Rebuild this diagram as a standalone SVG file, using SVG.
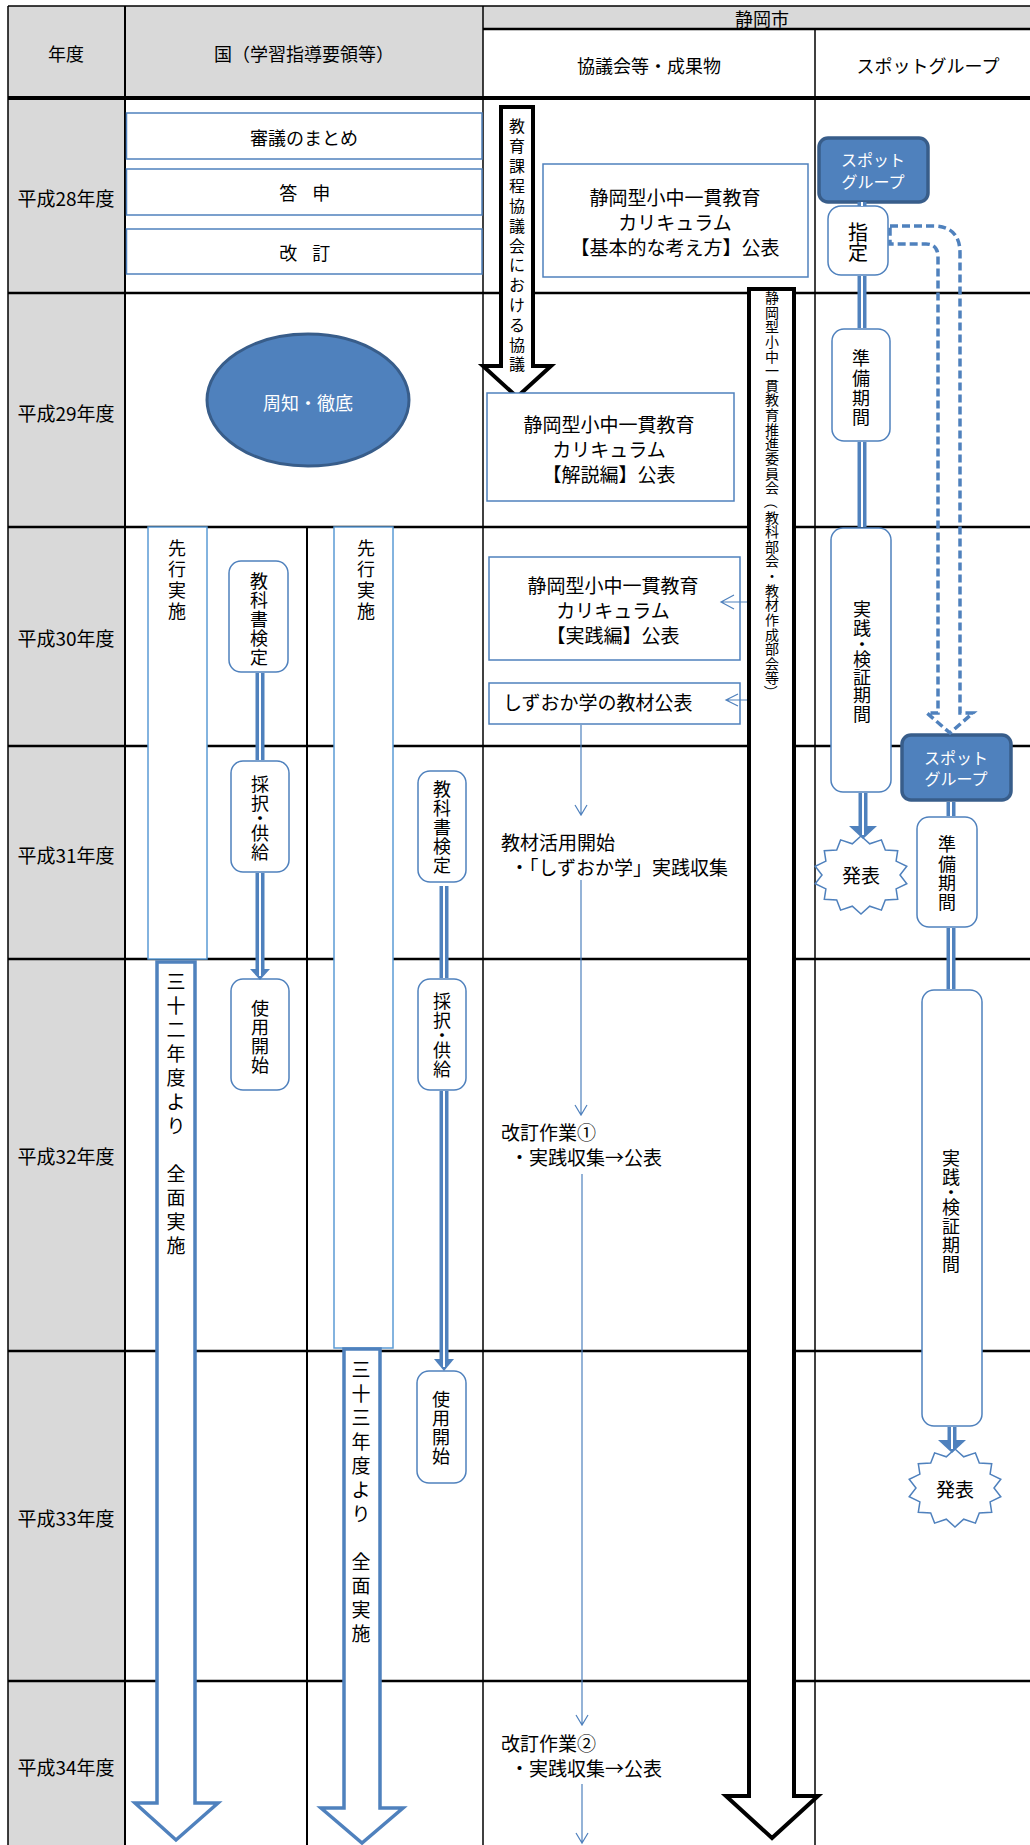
<svg xmlns="http://www.w3.org/2000/svg" width="1030" height="1845" viewBox="0 0 1030 1845">
<defs>
<style>
.t{font-family:"Noto Sans CJK JP","Noto Sans CJK SC",sans-serif;font-size:18px;fill:#000;text-anchor:middle;dominant-baseline:central}
.st{text-anchor:start}
.wt{fill:#fff}
.f14{font-size:14px}.f16{font-size:16px}.f19{font-size:19px}.f20{font-size:20px}
.g{stroke:#000;stroke-width:2.5}
.gt{stroke:#000;stroke-width:1.5}
.bx{fill:#fff;stroke:#4f81bd;stroke-width:1.5}
.bx2{fill:#fff;stroke:#5b9bd5;stroke-width:1.5}
.sp{fill:#4f81bd;stroke:#385d8a;stroke-width:3.5}
.dl{stroke:#4f81bd;stroke-width:9;fill:none}
.dw{stroke:#fff;stroke-width:2;fill:none}
.ah{fill:#4f81bd}
.thin{stroke:#4f81bd;stroke-width:1.2;fill:none}
.bk{fill:#fff;stroke:#000;stroke-width:4;stroke-linejoin:miter}
.ba{fill:#fff;stroke:#4f81bd;stroke-width:3.5;stroke-linejoin:miter}
.dash{fill:none;stroke:#4f81bd;stroke-width:3.5;stroke-dasharray:8 4}
.star{fill:#fff;stroke:#4f81bd;stroke-width:1.5}
</style>
<polygon id="star" points="0,-39 8.7,-31.2 20.4,-35.1 24.3,-25 36.7,-24.3 35.1,-13.9 45.8,-8.7 39,0 45.8,8.7 35.1,13.9 36.7,24.3 24.3,25 20.4,35.1 8.7,31.2 0,39 -8.7,31.2 -20.4,35.1 -24.3,25 -36.7,24.3 -35.1,13.9 -45.8,8.7 -39,0 -45.8,-8.7 -35.1,-13.9 -36.7,-24.3 -24.3,-25 -20.4,-35.1 -8.7,-31.2"/>
</defs>
<rect x="0" y="0" width="1030" height="1845" fill="#fff"/>
<g id="table">
<rect x="8" y="6" width="475" height="92" fill="#d9d9d9"/>
<rect x="483" y="6" width="547" height="23" fill="#d9d9d9"/>
<rect x="8" y="98" width="117" height="1747" fill="#d9d9d9"/>
<line class="gt" x1="8" y1="6" x2="1030" y2="6"/>
<line class="gt" x1="8" y1="6" x2="8" y2="1845"/>
<line class="g" x1="125" y1="6" x2="125" y2="1845" style="stroke-width:2"/>
<line class="gt" x1="483" y1="6" x2="483" y2="1845"/>
<line class="gt" x1="815" y1="29" x2="815" y2="1845"/>
<line class="g" x1="307" y1="527" x2="307" y2="1845" style="stroke-width:2"/>
<line class="g" x1="483" y1="29" x2="1030" y2="29"/>
<line class="g" x1="8" y1="98" x2="1030" y2="98" style="stroke-width:4"/>
<line class="g" x1="8" y1="293" x2="1030" y2="293"/>
<line class="g" x1="8" y1="527" x2="1030" y2="527"/>
<line class="g" x1="8" y1="746" x2="1030" y2="746"/>
<line class="g" x1="8" y1="959" x2="1030" y2="959"/>
<line class="g" x1="8" y1="1351" x2="1030" y2="1351"/>
<line class="g" x1="8" y1="1681" x2="1030" y2="1681"/>
<text class="t" x="66" y="53">年度</text>
<text class="t" x="304" y="53">国（学習指導要領等）</text>
<text class="t" x="762" y="18">静岡市</text>
<text class="t" x="649" y="65">協議会等・成果物</text>
<text class="t" x="928" y="65">スポットグループ</text>
<text class="t f19" x="66" y="197">平成28年度</text>
<text class="t f19" x="66" y="412">平成29年度</text>
<text class="t f19" x="66" y="637">平成30年度</text>
<text class="t f19" x="66" y="854">平成31年度</text>
<text class="t f19" x="66" y="1155">平成32年度</text>
<text class="t f19" x="66" y="1517">平成33年度</text>
<text class="t f19" x="66" y="1766">平成34年度</text>
</g>
<g id="n-shingi"><rect class="bx" x="126.5" y="113" width="355.5" height="46"/><text class="t" x="304" y="137">審議のまとめ</text></g>
<g id="n-toushin"><rect class="bx" x="126.5" y="169" width="355.5" height="46"/><text class="t" x="304" y="192" style="letter-spacing:-1.5px">答　申</text></g>
<g id="n-kaitei"><rect class="bx" x="126.5" y="229" width="355.5" height="45"/><text class="t" x="304" y="252" style="letter-spacing:-1.5px">改　訂</text></g>
<g id="n-shuchi"><ellipse cx="308" cy="400" rx="101" ry="66" fill="#4f81bd" stroke="#385d8a" stroke-width="3"/><text class="t wt" x="308" y="402">周知・徹底</text></g>
<g id="n-senko1"><rect class="bx2" x="148" y="527" width="59" height="432"/><text class="t" x="177 177 177 177" y="547 568 589 610">先行実施</text></g>
<g id="n-senko2"><rect class="bx2" x="334" y="527" width="59" height="821"/><text class="t" x="366 366 366 366" y="547 568 589 610">先行実施</text></g>
<g id="n-kentei1"><rect class="bx" x="229" y="561" width="59" height="111" rx="12"/><text class="t" x="259 259 259 259 259" y="580 599 618 637 656">教科書検定</text></g>
<g id="n-saitaku1"><rect class="bx" x="231" y="761" width="58" height="111" rx="12"/><text class="t" x="260 260 260 260 260" y="783 802 817 832 851">採択・供給</text></g>
<g id="n-shiyou1"><rect class="bx" x="231" y="979" width="58" height="111" rx="12"/><text class="t" x="260 260 260 260" y="1007 1026 1045 1064">使用開始</text></g>
<g id="n-kentei2"><rect class="bx" x="418" y="771" width="48" height="111" rx="12"/><text class="t" x="442 442 442 442 442" y="788 807 826 845 864">教科書検定</text></g>
<g id="n-saitaku2"><rect class="bx" x="418" y="979" width="48" height="111" rx="12"/><text class="t" x="442 442 442 442 442" y="1000 1019 1034 1049 1068">採択・供給</text></g>
<g id="n-shiyou2"><rect class="bx" x="417" y="1371" width="49" height="112" rx="12"/><text class="t" x="441 441 441 441" y="1398 1417 1436 1455">使用開始</text></g>
<g id="n-zenmen32"><path class="ba" d="M157,962 H195 V1803 H218 L176,1840 L135,1803 H157 Z"/><text class="t f19" x="176 176 176 176 176 176 176 176 176 176 176 176" y="980 1004 1028 1052 1076 1100 1124 1148 1172 1196 1220 1244">三十二年度より　全面実施</text></g>
<g id="n-zenmen33"><path class="ba" d="M344,1349 H380 V1808 H403 L362,1843 L321,1808 H344 Z"/><text class="t f19" x="361 361 361 361 361 361 361 361 361 361 361 361" y="1368 1392 1416 1440 1464 1488 1512 1536 1560 1584 1608 1632">三十三年度より　全面実施</text></g>
<g id="n-kyougi"><path class="bk" d="M501,107 H533 V366 H551 L517,397 L483,366 H501 Z"/><text class="t f16" x="517 517 517 517 517 517 517 517 517 517 517 517 517" y="125 145 165 185 205 225 245 264 284 304 324 344 363">教育課程協議会における協議</text></g>
<g id="n-suishin"><path class="bk" d="M749,289 H794 V1796 H818 L772,1838 L726,1796 H749 Z"/>
<text class="t f14" x="772 772 772 772 772 772 772 772 772 772 772 772 772 772" y="297 311.6 326.3 340.9 355.5 370.2 384.8 399.4 414 428.7 443.3 457.9 472.6 487.2">静岡型小中一貫教育推進委員会</text>
<text class="t f14" x="772" y="501.8" transform="rotate(90 772 501.8)">（</text>
<text class="t f14" x="772 772 772 772 772 772 772 772 772 772 772 772" y="516.5 531.1 545.7 560.3 575 589.6 604.2 618.9 633.5 648.1 662.8 677.4">教科部会・教材作成部会等</text>
<text class="t f14" x="772" y="692" transform="rotate(90 772 692)">）</text></g>
<g id="n-kihon"><rect class="bx" x="543" y="164" width="265" height="113"/><text class="t f19" x="675" y="196">静岡型小中一貫教育</text><text class="t f19" x="675" y="221">カリキュラム</text><text class="t f19" x="675" y="246">【基本的な考え方】公表</text></g>
<g id="n-kaisetsu"><rect class="bx" x="487" y="393" width="247" height="108"/><text class="t f19" x="609" y="423">静岡型小中一貫教育</text><text class="t f19" x="609" y="448">カリキュラム</text><text class="t f19" x="609" y="473">【解説編】公表</text></g>
<g id="n-jissen"><rect class="bx" x="489" y="557" width="251" height="103"/><text class="t f19" x="613" y="584">静岡型小中一貫教育</text><text class="t f19" x="613" y="609">カリキュラム</text><text class="t f19" x="613" y="634">【実践編】公表</text></g>
<g id="n-shizuoka"><rect class="bx" x="489" y="683" width="251" height="41"/><text class="t f19 st" x="503" y="701">しずおか学の教材公表</text></g>
<g id="n-katsuyou"><text class="t f19 st" x="501" y="841">教材活用開始</text><text class="t f19 st" x="510" y="866">・「しずおか学」実践収集</text></g>
<g id="n-kaitei1"><text class="t f19 st" x="501" y="1131">改訂作業①</text><text class="t f19 st" x="510" y="1156">・実践収集→公表</text></g>
<g id="n-kaitei2"><text class="t f19 st" x="501" y="1742">改訂作業②</text><text class="t f19 st" x="510" y="1767">・実践収集→公表</text></g>
<g id="n-spot1"><rect class="sp" x="819" y="138" width="109" height="64" rx="9"/><text class="t f16 wt" x="873" y="159">スポット</text><text class="t f16 wt" x="873" y="181">グループ</text></g>
<g id="n-shitei"><rect class="bx" x="828" y="206" width="60" height="69" rx="13"/><text class="t f20" x="858 858" y="231 251">指定</text></g>
<g id="n-junbi1"><rect class="bx" x="832" y="329" width="58" height="112" rx="12"/><text class="t" x="861 861 861 861" y="357 377 397 416">準備期間</text></g>
<g id="n-jikken1"><rect class="bx" x="831" y="528" width="60" height="264" rx="12"/><text class="t" x="862 862 862 862 862 862 862" y="608 627 643 658 676 694 713">実践・検証期間</text></g>
<g id="n-happyou1"><use href="#star" class="star" transform="translate(861 875)"/><text class="t f19" x="861" y="874">発表</text></g>
<g id="n-spot2"><rect class="sp" x="902" y="735" width="109" height="65" rx="9"/><text class="t f16 wt" x="956" y="757">スポット</text><text class="t f16 wt" x="956" y="778">グループ</text></g>
<g id="n-junbi2"><rect class="bx" x="917" y="817" width="60" height="110" rx="12"/><text class="t" x="947 947 947 947" y="843 863 882 901">準備期間</text></g>
<g id="n-jikken2"><rect class="bx" x="922" y="990" width="60" height="436" rx="12"/><text class="t" x="951 951 951 951 951 951 951" y="1157 1176 1191 1206 1225 1244 1263">実践・検証期間</text></g>
<g id="n-happyou2"><use href="#star" class="star" transform="translate(955 1488)"/><text class="t f19" x="955" y="1488">発表</text></g>
<g id="connectors">
<line class="dl" x1="862" y1="202" x2="862" y2="206"/><line class="dw" x1="862" y1="202" x2="862" y2="206"/>
<line class="dl" x1="862" y1="276" x2="862" y2="328"/><line class="dw" x1="862" y1="276" x2="862" y2="328"/>
<line class="dl" x1="862" y1="442" x2="862" y2="527"/><line class="dw" x1="862" y1="442" x2="862" y2="527"/>
<line class="dl" x1="863" y1="793" x2="863" y2="827"/><polygon class="ah" points="849,826 877,826 863,839"/><line class="dw" x1="863" y1="793" x2="863" y2="835"/>
<line class="dl" x1="951" y1="802" x2="951" y2="816"/><line class="dw" x1="951" y1="802" x2="951" y2="816"/>
<line class="dl" x1="951" y1="928" x2="951" y2="989"/><line class="dw" x1="951" y1="928" x2="951" y2="989"/>
<line class="dl" x1="952" y1="1427" x2="952" y2="1441"/><polygon class="ah" points="938,1440 966,1440 952,1453"/><line class="dw" x1="952" y1="1427" x2="952" y2="1449"/>
<line class="dl" x1="260" y1="673" x2="260" y2="760"/><line class="dw" x1="260" y1="673" x2="260" y2="760"/>
<line class="dl" x1="260" y1="873" x2="260" y2="970"/><polygon class="ah" points="250,969 270,969 260,980"/><line class="dw" x1="260" y1="873" x2="260" y2="976"/>
<line class="dl" x1="444" y1="886" x2="444" y2="978"/><line class="dw" x1="444" y1="886" x2="444" y2="978"/>
<line class="dl" x1="444" y1="1091" x2="444" y2="1360"/><polygon class="ah" points="434,1359 454,1359 444,1371"/><line class="dw" x1="444" y1="1091" x2="444" y2="1367"/>
<path class="thin" d="M581,725 V815 M575,805 L581,815 L587,805"/>
<path class="thin" d="M581,880 V1115 M575,1105 L581,1115 L587,1105"/>
<path class="thin" d="M582,1174 V1725 M576,1715 L582,1725 L588,1715"/>
<path class="thin" d="M582,1784 V1843 M576,1833 L582,1843 L588,1833"/>
<path class="thin" d="M747,602 H721 M734,595 L721,602 L734,609"/>
<path class="thin" d="M747,700 H726 M738,694 L726,700 L738,706"/>
<path class="dash" d="M890,226 H933 Q960,226 960,253 V713 H973 L950,733 L927,713 H938 V257 Q938,244 926,244 H890 Z"/>
</g>
</svg>
